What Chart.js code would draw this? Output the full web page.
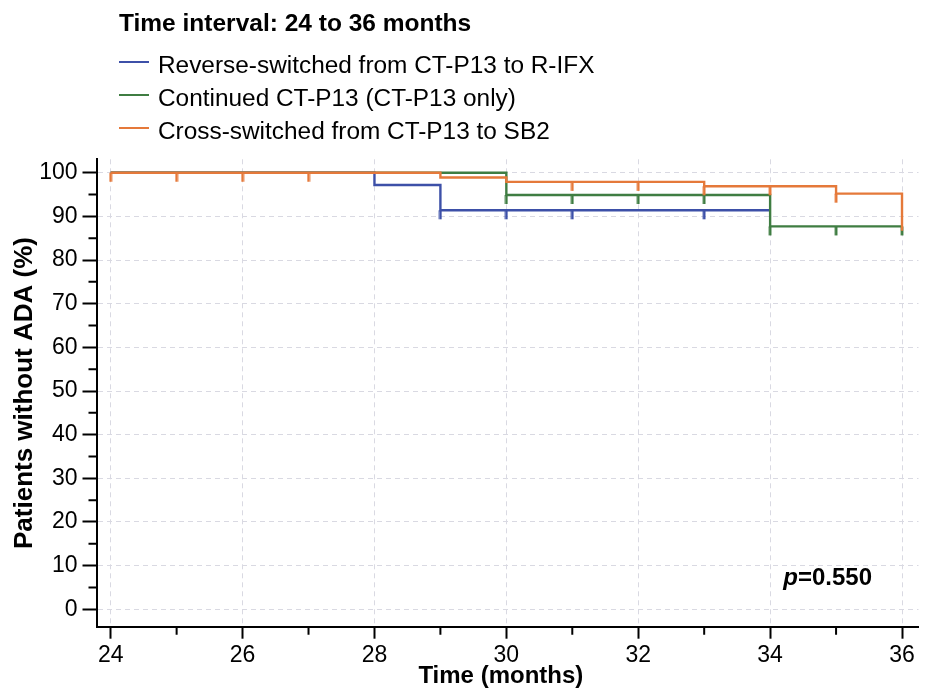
<!DOCTYPE html>
<html>
<head>
<meta charset="utf-8">
<script src="https://cdn.jsdelivr.net/npm/chart.js@4.4.1/dist/chart.umd.min.js"></script>
<style>
  html, body { margin: 0; padding: 0; background: #fff; }
  #wrap { position: relative; width: 929px; height: 691px; font-family: "Liberation Sans", Arial, sans-serif; color: #000; }
  #plot { position: absolute; left: 0; top: 0; }
  #title { position: absolute; left: 119px; top: 9px; font-size: 24.5px; font-weight: bold; line-height: 28px; white-space: nowrap; }
  .row { position: absolute; left: 119px; height: 33px; line-height: 33px; font-size: 24.4px; white-space: nowrap; }
  .row .swatch { position: absolute; left: 0; top: 13px; width: 30px; height: 2px; }
  .row .label { position: absolute; left: 39px; top: 0; }
</style>
</head>
<body>
<div id="wrap">
  <canvas id="plot" width="929" height="691"></canvas>
  <div id="title">Time interval: 24 to 36 months</div>
  <div id="legend"></div>
</div>
<script>
const groupNames = ['Reverse-switched from CT-P13 to R-IFX', 'Continued CT-P13 (CT-P13 only)', 'Cross-switched from CT-P13 to SB2'];
const groupColors = ['#3d50a8', '#3f7d42', '#e5793a'];

// times where the curve steps (months) and % without ADA from that time on
const reverseTimes = [24, 28, 29, 34];
const reverseValues = [100, 97.2, 91.4, 91.4];
const continuedTimes = [24, 30, 34, 36];
const continuedValues = [100, 94.9, 87.7, 87.7];
const crossTimes = [24, 29, 30, 33, 35, 36];
const crossValues = [100, 98.9, 97.9, 96.9, 95.2, 86.7];

// censored patients (months)
const reverseCensored = [29, 30, 31, 33];
const continuedCensored = [30, 31, 32, 33, 34, 35, 36];
const crossCensored = [24, 25, 26, 27, 31, 32, 33, 34, 35];

const xTickLabels = [24, 26, 28, 30, 32, 34, 36];
const xMinorTicks = [25, 27, 29, 31, 33, 35];
const yTickLabels = [0, 10, 20, 30, 40, 50, 60, 70, 80, 90, 100];
const yMinorTicks = [5, 15, 25, 35, 45, 55, 65, 75, 85, 95];

const FONT = '"Liberation Sans", Arial, sans-serif';

// legend in html, one row per group
const legend = document.getElementById('legend');
groupNames.forEach((name, i) => {
    const row = document.createElement('div');
    row.className = 'row';
    row.style.top = (48.3 + i * 32.7) + 'px';
    row.innerHTML = '<span class="swatch" style="background:' + groupColors[i] + '"></span><span class="label">' + name + '</span>';
    legend.appendChild(row);
});

// value of a step curve at time t
function valueAt(times, values, t) {
    let v = values[0];
    times.forEach((tt, i) => { if (tt <= t) v = values[i]; });
    return v;
}

// little vertical dash hanging below the point
function censorMark(color) {
    const c = document.createElement('canvas');
    c.width = 4;
    c.height = 20;
    const g = c.getContext('2d');
    g.fillStyle = color;
    g.fillRect(0.6, 10, 2.8, 9);
    return c;
}

const groups = [
    { times: reverseTimes, values: reverseValues, censored: reverseCensored, order: 2 },
    { times: continuedTimes, values: continuedValues, censored: continuedCensored, order: 1 },
    { times: crossTimes, values: crossValues, censored: crossCensored, order: 0 }
];

const datasets = [];
groups.forEach((g, i) => {
    datasets.push({
        label: groupNames[i],
        data: g.times.map((t, k) => ({ x: t, y: g.values[k] })),
        borderColor: groupColors[i],
        borderWidth: 2.4,
        stepped: 'before',
        pointRadius: 0,
        fill: false,
        order: g.order
    });
    datasets.push({
        label: groupNames[i] + ' censored',
        data: g.censored.map(t => ({ x: t, y: valueAt(g.times, g.values, t) })),
        showLine: false,
        pointStyle: censorMark(groupColors[i]),
        pointRadius: 5,
        order: g.order
    });
});

const minorTicksPlugin = {
    id: 'minorTicks',
    afterDraw(chart) {
        const { ctx, chartArea, scales: { x, y } } = chart;
        ctx.save();
        ctx.strokeStyle = '#000';
        ctx.lineWidth = 2;
        ctx.beginPath();
        xMinorTicks.forEach(v => {
            const px = x.getPixelForValue(v);
            ctx.moveTo(px, chartArea.bottom);
            ctx.lineTo(px, chartArea.bottom + 8);
        });
        yMinorTicks.forEach(v => {
            const py = y.getPixelForValue(v);
            ctx.moveTo(chartArea.left, py);
            ctx.lineTo(chartArea.left - 8, py);
        });
        ctx.stroke();
        ctx.restore();
    }
};

const pValuePlugin = {
    id: 'pValue',
    afterDatasetsDraw(chart, args, opts) {
        const { ctx, scales: { x, y } } = chart;
        const px = x.getPixelForValue(opts.x);
        const py = y.getPixelForValue(opts.y);
        ctx.save();
        ctx.fillStyle = '#000';
        ctx.textBaseline = 'middle';
        ctx.textAlign = 'left';
        ctx.font = 'italic bold 24px ' + FONT;
        ctx.fillText('p', px, py);
        const w = ctx.measureText('p').width;
        ctx.font = 'bold 24px ' + FONT;
        ctx.fillText('=0.550', px + w, py);
        ctx.restore();
    }
};

const gridColor = '#d9d9e2';

new Chart(document.getElementById('plot'), {
    type: 'line',
    data: { datasets },
    plugins: [minorTicksPlugin, pValuePlugin],
    options: {
        responsive: false,
        animation: false,
        events: [],
        layout: { padding: { top: 159.3, right: 10.5, left: 0, bottom: 0 } },
        plugins: {
            legend: { display: false },
            tooltip: { enabled: false },
            pValue: { x: 34.2, y: 7.1 }
        },
        scales: {
            x: {
                type: 'linear',
                min: 23.785,
                max: 36.25,
                afterBuildTicks: s => { s.ticks = xTickLabels.map(v => ({ value: v })); },
                afterFit: s => { s.height = 64.3; },
                ticks: { autoSkip: false, maxRotation: 0, padding: 3.5, color: '#000', font: { family: FONT, size: 23 }, callback: v => String(v) },
                grid: { color: gridColor, lineWidth: 1, tickLength: 12, tickColor: '#000', tickWidth: 2, tickBorderDash: [] },
                border: { color: '#000', width: 2, dash: [5, 4] },
                // trailing spaces nudge the centred title a little left, as in the original
                title: { display: true, text: 'Time (months)  ', color: '#000', font: { family: FONT, size: 24, weight: 'bold' }, padding: 0 }
            },
            y: {
                type: 'linear',
                min: -3.98,
                max: 103.07,
                afterBuildTicks: s => { s.ticks = yTickLabels.map(v => ({ value: v })); },
                afterFit: s => { s.width = 96.5; },
                ticks: { autoSkip: false, padding: 5, color: '#000', font: { family: FONT, size: 23 }, callback: v => String(v) },
                grid: { color: gridColor, lineWidth: 1, tickLength: 14, tickColor: '#000', tickWidth: 2, tickBorderDash: [] },
                border: { color: '#000', width: 2, dash: [5, 4] },
                title: { display: true, text: 'Patients without ADA (%)', color: '#000', font: { family: FONT, size: 26, weight: 'bold' }, padding: { top: 9, bottom: 0 } }
            }
        }
    }
});
</script>
</body>
</html>
